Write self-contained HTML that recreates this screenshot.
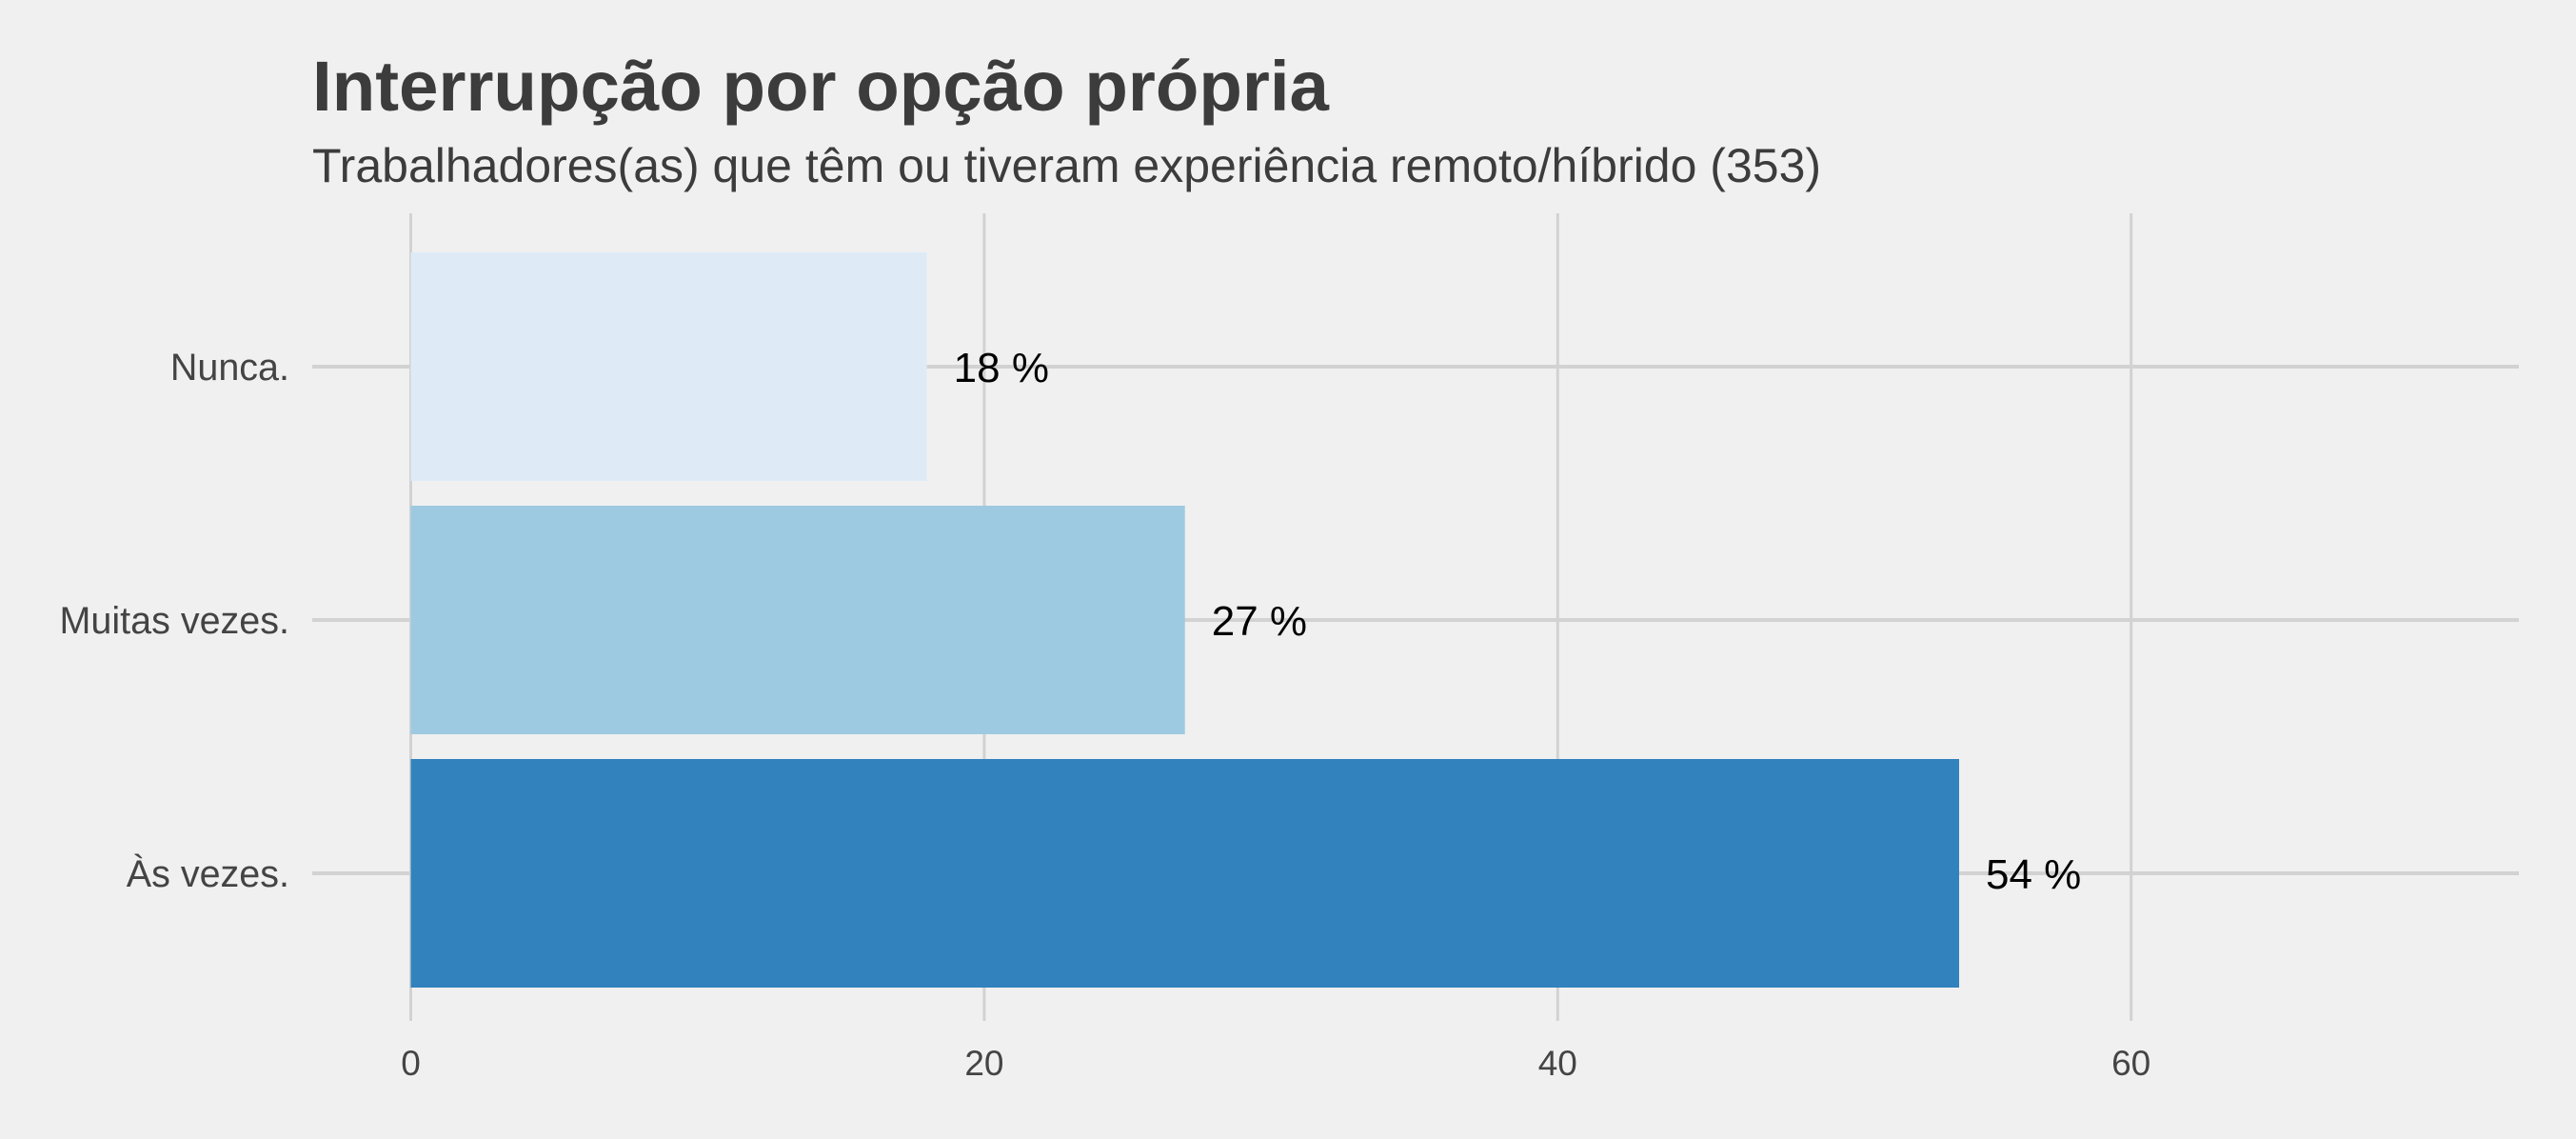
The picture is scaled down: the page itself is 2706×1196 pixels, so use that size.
<!DOCTYPE html>
<html><head><meta charset="utf-8">
<style>
html,body{margin:0;padding:0;background:#f0f0f0;}
svg{display:block;font-family:"Liberation Sans",Arial,sans-serif;}
</style></head>
<body>
<svg width="2706" height="1196" viewBox="0 0 2706 1196" xmlns="http://www.w3.org/2000/svg">
<rect x="0" y="0" width="2706" height="1196" fill="#f0f0f0"/>
<text x="328" y="116" font-size="74.5" font-weight="bold" fill="#3c3c3c">Interrupção por opção própria</text>
<text x="328" y="191" font-size="50" fill="#3c3c3c">Trabalhadores(as) que têm ou tiveram experiência remoto/híbrido (353)</text>
<g id="grid"></g>
<g id="bars"></g>
<g id="labels"></g>
</svg>
<script>
const categories = ["Nunca.", "Muitas vezes.", "Às vezes."];
const values = [18, 27, 54];
const valueLabels = ["18 %", "27 %", "54 %"];
const colors = ["#deebf7", "#9ecae1", "#3182bd"];
const xTicks = [0, 20, 40, 60];

const NS = "http://www.w3.org/2000/svg";
const x0 = 431.5, pxPerUnit = 30.12;
const xScale = v => x0 + v * pxPerUnit;
const bandTop = 265, bandStep = 266, barH = 240;
const yCenter = i => bandTop + barH / 2 + i * bandStep;
const plotTop = 224, plotBottom = 1072, gridLeft = 328, gridRight = 2646;

function mk(tag, attrs, parent, text) {
  const el = document.createElementNS(NS, tag);
  for (const k in attrs) el.setAttribute(k, attrs[k]);
  if (text !== undefined) el.textContent = text;
  parent.appendChild(el);
  return el;
}
const grid = document.getElementById("grid");
const bars = document.getElementById("bars");
const labels = document.getElementById("labels");

xTicks.forEach(t => {
  const l = mk("line", {x1: xScale(t), x2: xScale(t), y1: plotTop, y2: plotBottom, stroke: "#d2d2d2", "stroke-width": 3}, grid);
  
  
  const tx = mk("text", {x: xScale(t), y: 1129, "font-size": 37, fill: "#444", "text-anchor": "middle"}, labels, String(t));
  
  
});

categories.forEach((c, i) => {
  const yc = yCenter(i);
  const g = mk("line", {x1: gridLeft, x2: gridRight, y1: yc, y2: yc, stroke: "#d2d2d2", "stroke-width": 4}, grid);
  
  
  const r = mk("rect", {x: xScale(0), y: yc - barH / 2, width: xScale(values[i]) - xScale(0), height: barH, fill: colors[i]}, bars);
  
  
  const cl = mk("text", {x: 304, y: yc + 14, "font-size": 39.5, fill: "#444", "text-anchor": "end"}, labels, c);
  
  
  const vl = mk("text", {x: xScale(values[i]) + 28, y: yc + 16, "font-size": 44, fill: "#000"}, labels, valueLabels[i]);
  
  
});
</script>
</body></html>
